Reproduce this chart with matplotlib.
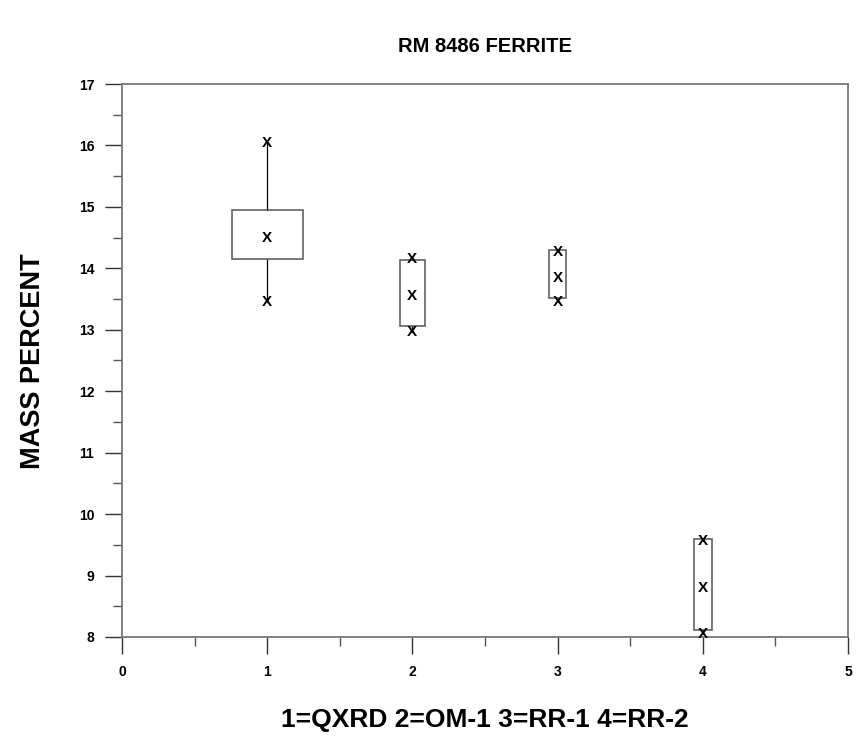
import numpy as np
import matplotlib
matplotlib.use("Agg")
import matplotlib.pyplot as plt
from matplotlib.patches import Rectangle
from matplotlib.ticker import MultipleLocator

plt.rcParams['font.family'] = ['Liberation Sans', 'DejaVu Sans']
plt.rcParams['font.weight'] = 'bold'

# values
groups = [1, 2, 3, 4]
max_vals = [16.04, 14.16, 14.26, 9.56]
med_vals = [14.50, 13.55, 13.84, 8.80]
min_vals = [13.46, 12.96, 13.45, 8.05]
box_hi = [14.95, 14.14, 14.30, 9.60]
box_lo = [14.16, 13.06, 13.51, 8.12]
box_w = [0.49, 0.17, 0.12, 0.125]

title = "RM 8486 FERRITE"
xlabel = "1=QXRD 2=OM-1 3=RR-1 4=RR-2"
ylabel = "MASS PERCENT"

W, H = 856, 737
fig = plt.figure(figsize=(W / 100, H / 100), dpi=100)
ax = fig.add_axes([122 / W, 1 - 637 / H, 726 / W, 553 / H])

box_col = '#555555'
for g, hi, lo, w, mx, md, mn in zip(groups, box_hi, box_lo, box_w,
                                    max_vals, med_vals, min_vals):
    ax.add_patch(Rectangle((g - w / 2, lo), w, hi - lo, fill=False,
                           edgecolor=box_col, linewidth=1.1, zorder=2))
    # whiskers
    ax.plot([g, g], [hi, mx], color='black', linewidth=0.9, zorder=1)
    ax.plot([g, g], [lo, mn], color='black', linewidth=0.9, zorder=1)
    for v in (mx, md, mn):
        ax.text(g, v, 'X', ha='center', va='center', fontsize=11,
                fontweight='bold', zorder=3)

ax.set_xlim(0, 5)
ax.set_ylim(8, 17)
ax.xaxis.set_major_locator(MultipleLocator(1))
ax.xaxis.set_minor_locator(MultipleLocator(0.5))
ax.yaxis.set_major_locator(MultipleLocator(1))
ax.yaxis.set_minor_locator(MultipleLocator(0.5))

ax.tick_params(which='major', direction='out', length=12, width=1,
               color='#333333', labelsize=10, pad=8)
ax.tick_params(which='minor', direction='out', length=6.5, width=1,
               color='#555555')
ax.tick_params(top=False, right=False, which='both')
for lab in ax.get_xticklabels() + ax.get_yticklabels():
    lab.set_fontweight('bold')

for sp in ax.spines.values():
    sp.set_color('#777777')
    sp.set_linewidth(1.3)

fig.text(485 / W, 1 - 47 / H, title, ha='center', va='center',
         fontsize=14.5, fontweight='bold')
fig.text(33 / W, 1 - 361 / H, ylabel, ha='center', va='center',
         rotation=90, fontsize=19.5, fontweight='bold')
fig.text(485 / W, 1 - 720 / H, xlabel, ha='center', va='center',
         fontsize=19, fontweight='bold')

fig.savefig('out.png', dpi=100, facecolor='white')
